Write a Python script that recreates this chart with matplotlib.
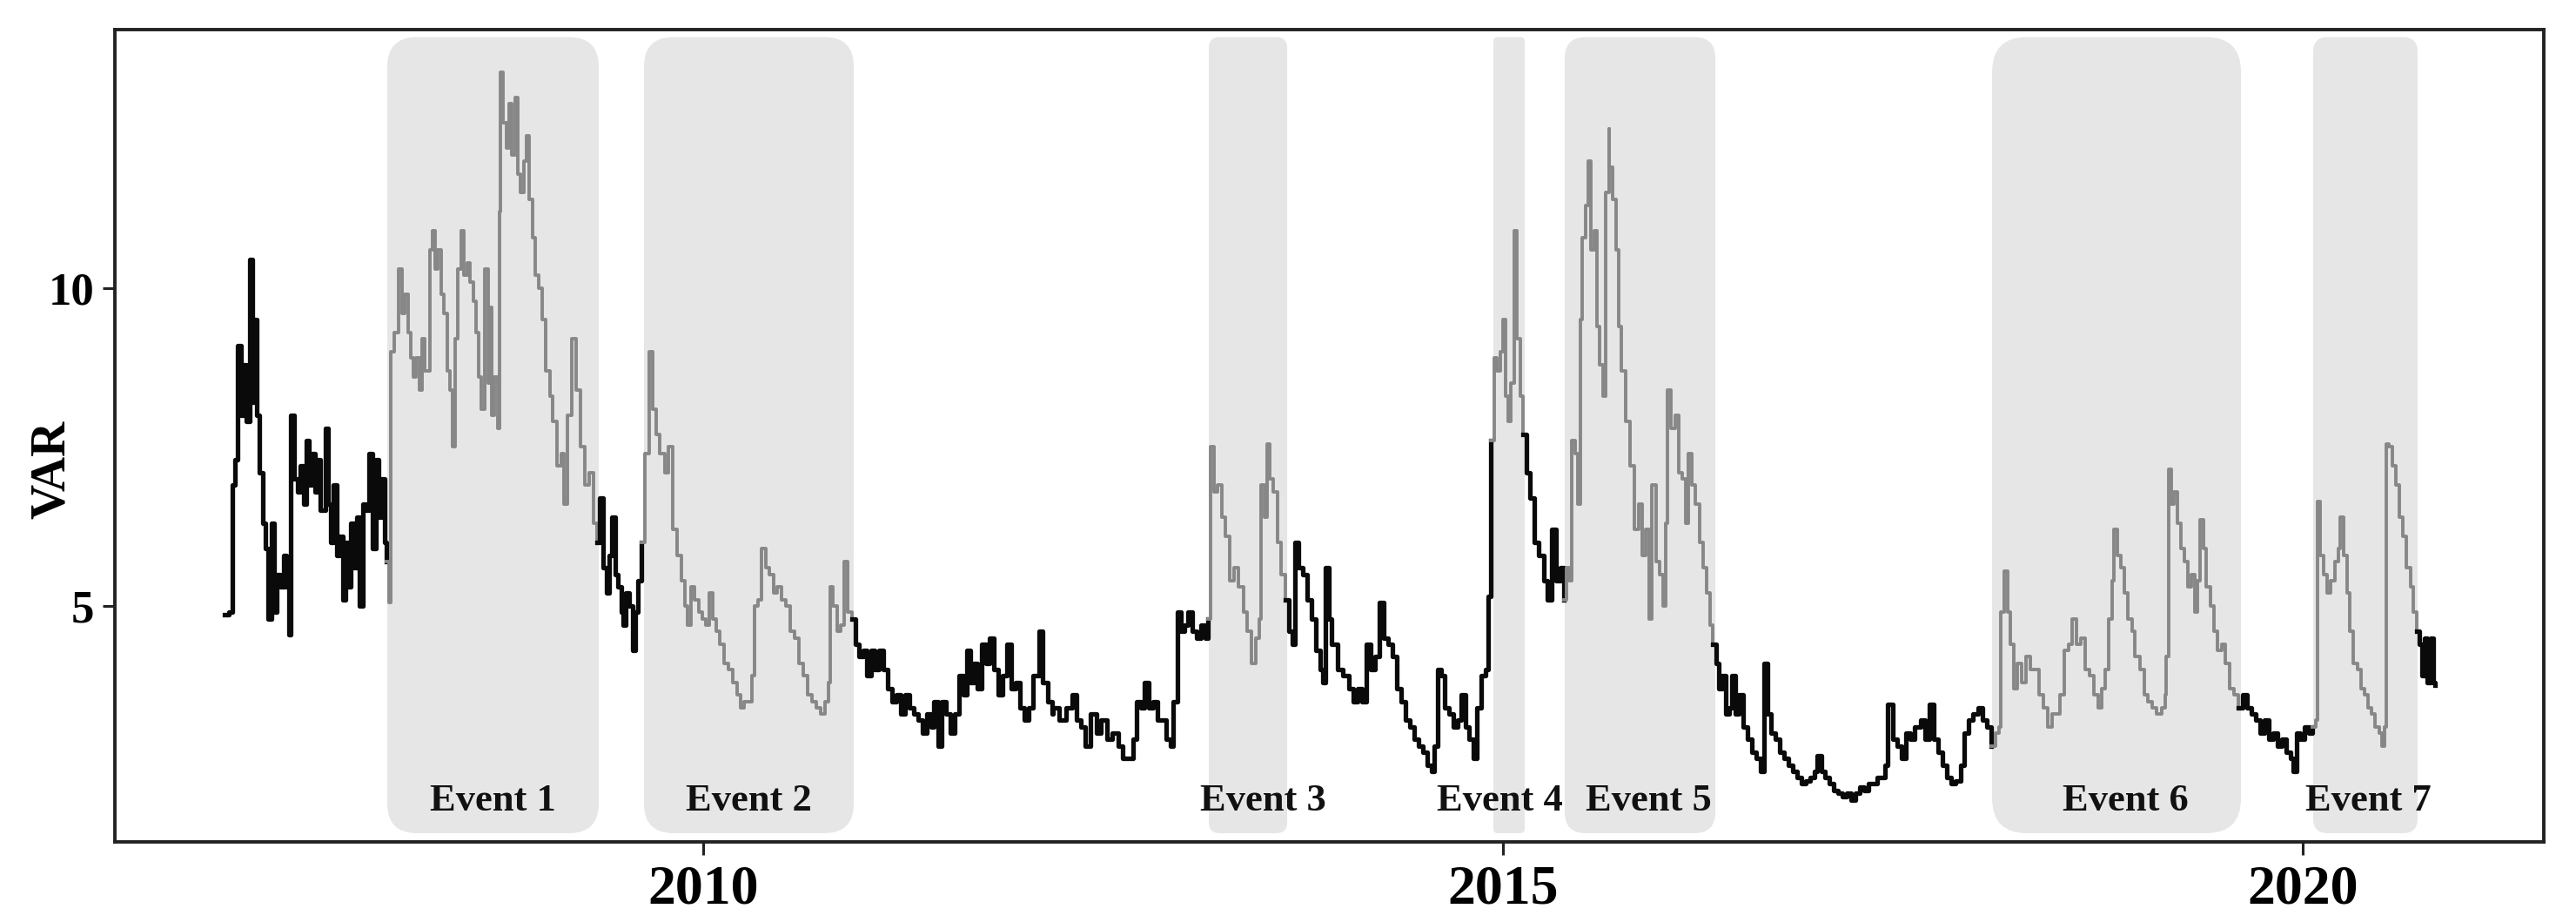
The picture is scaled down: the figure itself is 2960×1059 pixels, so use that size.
import numpy as np
import matplotlib.pyplot as plt
from matplotlib.patches import FancyBboxPatch

# VAR series (decimal year, value)
years = [
    2007.010, 2007.037, 2007.055, 2007.073, 2007.091, 2007.110, 2007.128, 2007.146, 2007.164, 2007.182,
    2007.191, 2007.209, 2007.227, 2007.246, 2007.264, 2007.282, 2007.300, 2007.318, 2007.336, 2007.354,
    2007.378, 2007.396, 2007.409, 2007.423, 2007.441, 2007.463, 2007.481, 2007.500, 2007.518, 2007.536,
    2007.554, 2007.572, 2007.590, 2007.608, 2007.636, 2007.654, 2007.672, 2007.690, 2007.708, 2007.726,
    2007.745, 2007.763, 2007.781, 2007.799, 2007.817, 2007.835, 2007.853, 2007.871, 2007.890, 2007.913,
    2007.931, 2007.953, 2007.971, 2007.989, 2008.007, 2008.020, 2008.035, 2008.049, 2008.071, 2008.098,
    2008.116, 2008.134, 2008.153, 2008.171, 2008.189, 2008.207, 2008.225, 2008.243, 2008.261, 2008.289,
    2008.307, 2008.325, 2008.343, 2008.361, 2008.379, 2008.398, 2008.416, 2008.434, 2008.448, 2008.466,
    2008.488, 2008.506, 2008.524, 2008.543, 2008.561, 2008.579, 2008.597, 2008.615, 2008.637, 2008.655,
    2008.670, 2008.678, 2008.696, 2008.714, 2008.727, 2008.734, 2008.751, 2008.769, 2008.787, 2008.805,
    2008.827, 2008.841, 2008.860, 2008.878, 2008.896, 2008.914, 2008.932, 2008.950, 2008.974, 2008.992,
    2009.014, 2009.041, 2009.059, 2009.086, 2009.114, 2009.132, 2009.150, 2009.177, 2009.204, 2009.231,
    2009.259, 2009.286, 2009.313, 2009.337, 2009.353, 2009.373, 2009.395, 2009.413, 2009.431, 2009.449,
    2009.467, 2009.486, 2009.500, 2009.518, 2009.540, 2009.558, 2009.576, 2009.594, 2009.616, 2009.634,
    2009.663, 2009.685, 2009.707, 2009.730, 2009.758, 2009.785, 2009.812, 2009.839, 2009.863, 2009.885,
    2009.903, 2009.926, 2009.948, 2009.972, 2009.993, 2010.015, 2010.039, 2010.062, 2010.084, 2010.102,
    2010.129, 2010.157, 2010.184, 2010.211, 2010.233, 2010.256, 2010.284, 2010.302, 2010.320, 2010.342,
    2010.365, 2010.389, 2010.411, 2010.438, 2010.465, 2010.492, 2010.519, 2010.546, 2010.573, 2010.601,
    2010.628, 2010.655, 2010.682, 2010.709, 2010.737, 2010.764, 2010.782, 2010.795, 2010.813, 2010.836,
    2010.860, 2010.882, 2010.905, 2010.929, 2010.951, 2010.972, 2011.000, 2011.023, 2011.049, 2011.072,
    2011.100, 2011.127, 2011.154, 2011.181, 2011.208, 2011.236, 2011.263, 2011.290, 2011.317, 2011.344,
    2011.372, 2011.399, 2011.426, 2011.444, 2011.468, 2011.490, 2011.517, 2011.544, 2011.571, 2011.598,
    2011.626, 2011.647, 2011.671, 2011.694, 2011.716, 2011.743, 2011.770, 2011.792, 2011.816, 2011.843,
    2011.870, 2011.897, 2011.925, 2011.952, 2011.979, 2012.006, 2012.034, 2012.061, 2012.083, 2012.101,
    2012.124, 2012.152, 2012.179, 2012.187, 2012.224, 2012.269, 2012.305, 2012.333, 2012.360, 2012.387,
    2012.423, 2012.460, 2012.487, 2012.523, 2012.559, 2012.596, 2012.623, 2012.659, 2012.686, 2012.710,
    2012.735, 2012.759, 2012.786, 2012.813, 2012.840, 2012.868, 2012.895, 2012.922, 2012.940, 2012.964,
    2012.986, 2013.007, 2013.031, 2013.058, 2013.085, 2013.113, 2013.140, 2013.158, 2013.172, 2013.194,
    2013.218, 2013.240, 2013.267, 2013.294, 2013.321, 2013.348, 2013.376, 2013.403, 2013.430, 2013.457,
    2013.475, 2013.490, 2013.508, 2013.524, 2013.542, 2013.566, 2013.590, 2013.611, 2013.639, 2013.660,
    2013.684, 2013.697, 2013.720, 2013.747, 2013.775, 2013.802, 2013.829, 2013.856, 2013.874, 2013.889,
    2013.911, 2013.928, 2013.965, 2014.001, 2014.037, 2014.064, 2014.092, 2014.119, 2014.146, 2014.173,
    2014.201, 2014.228, 2014.255, 2014.282, 2014.309, 2014.337, 2014.364, 2014.391, 2014.418, 2014.445,
    2014.473, 2014.500, 2014.527, 2014.554, 2014.572, 2014.591, 2014.614, 2014.636, 2014.663, 2014.690,
    2014.718, 2014.741, 2014.766, 2014.790, 2014.814, 2014.835, 2014.863, 2014.890, 2014.908, 2014.923,
    2014.948, 2014.962, 2014.981, 2014.999, 2015.017, 2015.035, 2015.050, 2015.068, 2015.086, 2015.107,
    2015.126, 2015.147, 2015.171, 2015.198, 2015.225, 2015.253, 2015.280, 2015.307, 2015.334, 2015.361,
    2015.380, 2015.398, 2015.416, 2015.430, 2015.449, 2015.467, 2015.485, 2015.497, 2015.516, 2015.534,
    2015.552, 2015.570, 2015.588, 2015.606, 2015.625, 2015.643, 2015.661, 2015.666, 2015.688, 2015.706,
    2015.724, 2015.742, 2015.769, 2015.796, 2015.824, 2015.851, 2015.869, 2015.891, 2015.914, 2015.932,
    2015.956, 2015.978, 2015.999, 2016.018, 2016.029, 2016.050, 2016.078, 2016.101, 2016.123, 2016.141,
    2016.159, 2016.181, 2016.205, 2016.228, 2016.250, 2016.272, 2016.295, 2016.313, 2016.332, 2016.350,
    2016.373, 2016.395, 2016.413, 2016.431, 2016.453, 2016.477, 2016.504, 2016.531, 2016.558, 2016.585,
    2016.613, 2016.634, 2016.653, 2016.676, 2016.703, 2016.731, 2016.758, 2016.785, 2016.812, 2016.839,
    2016.867, 2016.894, 2016.921, 2016.948, 2016.966, 2016.990, 2017.012, 2017.039, 2017.066, 2017.093,
    2017.121, 2017.148, 2017.175, 2017.202, 2017.230, 2017.257, 2017.284, 2017.311, 2017.338, 2017.366,
    2017.389, 2017.402, 2017.438, 2017.465, 2017.492, 2017.519, 2017.546, 2017.574, 2017.610, 2017.637,
    2017.664, 2017.692, 2017.719, 2017.746, 2017.773, 2017.800, 2017.831, 2017.864, 2017.886, 2017.909,
    2017.936, 2017.973, 2018.000, 2018.027, 2018.054, 2018.082, 2018.100, 2018.114, 2018.136, 2018.154,
    2018.172, 2018.194, 2018.218, 2018.245, 2018.272, 2018.299, 2018.327, 2018.354, 2018.381, 2018.408,
    2018.435, 2018.463, 2018.484, 2018.508, 2018.535, 2018.559, 2018.586, 2018.611, 2018.640, 2018.666,
    2018.695, 2018.720, 2018.744, 2018.767, 2018.789, 2018.807, 2018.822, 2018.840, 2018.862, 2018.883,
    2018.907, 2018.931, 2018.952, 2018.980, 2019.007, 2019.034, 2019.061, 2019.088, 2019.116, 2019.143,
    2019.148, 2019.160, 2019.179, 2019.197, 2019.215, 2019.238, 2019.260, 2019.282, 2019.306, 2019.324,
    2019.342, 2019.360, 2019.378, 2019.396, 2019.424, 2019.445, 2019.469, 2019.492, 2019.514, 2019.541,
    2019.569, 2019.596, 2019.623, 2019.650, 2019.677, 2019.705, 2019.732, 2019.759, 2019.786, 2019.814,
    2019.841, 2019.868, 2019.895, 2019.922, 2019.941, 2019.964, 2019.986, 2020.013, 2020.037, 2020.058,
    2020.080, 2020.091, 2020.109, 2020.131, 2020.153, 2020.176, 2020.200, 2020.222, 2020.236, 2020.254,
    2020.276, 2020.294, 2020.316, 2020.340, 2020.363, 2020.385, 2020.407, 2020.430, 2020.454, 2020.476,
    2020.497, 2020.512, 2020.523, 2020.541, 2020.559, 2020.581, 2020.603, 2020.624, 2020.648, 2020.672,
    2020.693, 2020.711, 2020.730, 2020.748, 2020.762, 2020.780, 2020.798, 2020.817, 2020.829,
]
var_values = [
    4.86, 4.90, 6.9, 7.3, 9.1, 8.0, 8.8, 7.9, 10.45, 8.2,
    9.5, 8.0, 7.1, 6.3, 5.9, 4.8, 6.3, 4.9, 5.5, 5.3,
    5.8, 5.3, 4.55, 8.0, 7.0, 6.8, 7.2, 6.6, 7.6, 6.9,
    7.4, 6.8, 7.3, 6.5, 7.8, 6.6, 6.0, 6.9, 5.8, 6.1,
    5.1, 6.0, 5.3, 6.3, 5.6, 6.4, 5.0, 6.6, 6.5, 7.4,
    5.9, 7.3, 6.4, 7.0, 6.0, 5.7, 5.05, 9.0, 9.3, 10.3,
    9.6, 9.9, 9.3, 8.9, 8.6, 8.9, 8.4, 9.2, 8.7, 10.6,
    10.9, 10.3, 10.6, 9.9, 9.6, 8.7, 8.4, 7.5, 9.2, 10.3,
    10.9, 10.2, 10.4, 10.1, 9.8, 9.3, 8.6, 8.1, 10.3, 8.5,
    9.7, 8.0, 8.6, 7.8, 11.2, 13.4, 12.6, 12.2, 12.9, 12.1,
    13.0, 11.8, 11.5, 12.0, 12.4, 11.4, 10.8, 10.2, 10.0, 9.5,
    8.7, 8.3, 7.9, 7.2, 7.4, 6.6, 8.0, 9.2, 8.4, 7.5,
    6.9, 7.1, 6.3, 6.0, 6.7, 5.6, 5.2, 5.8, 6.4, 5.5,
    5.3, 4.9, 4.7, 5.2, 5.0, 4.3, 4.9, 5.4, 6.0, 7.4,
    9.0, 8.1, 7.7, 7.4, 7.1, 7.5, 6.2, 5.8, 5.4, 5.0,
    4.7, 5.3, 5.1, 4.9, 4.8, 4.7, 5.2, 4.8, 4.6, 4.4,
    4.1, 4.0, 3.8, 3.6, 3.4, 3.5, 3.5, 3.9, 5.0, 5.1,
    5.9, 5.6, 5.5, 5.2, 5.3, 5.1, 5.0, 4.6, 4.5, 4.1,
    3.9, 3.6, 3.5, 3.4, 3.3, 3.5, 3.8, 5.3, 5.0, 4.6,
    4.7, 5.7, 4.9, 4.8, 4.4, 4.2, 4.3, 3.9, 4.3, 4.0,
    4.3, 4.0, 3.7, 3.5, 3.6, 3.3, 3.6, 3.4, 3.3, 3.2,
    3.0, 3.3, 3.1, 3.5, 2.8, 3.5, 3.3, 3.0, 3.3, 3.9,
    3.6, 4.3, 3.8, 4.1, 3.7, 4.4, 4.1, 4.5, 4.0, 3.6,
    3.9, 4.4, 3.7, 3.8, 3.4, 3.2, 3.4, 3.9, 3.9, 4.6,
    3.8, 3.5, 3.3, 3.4, 3.2, 3.4, 3.6, 3.2, 3.1, 2.8,
    3.3, 3.0, 3.2, 2.9, 3.0, 2.8, 2.6, 2.6, 2.9, 3.5,
    3.4, 3.8, 3.4, 3.5, 3.2, 3.2, 2.9, 2.8, 3.5, 4.9,
    4.6, 4.7, 4.9, 4.6, 4.5, 4.7, 4.5, 4.8, 7.5, 6.8,
    6.9, 6.4, 6.1, 5.4, 5.6, 5.3, 4.9, 4.6, 4.1, 4.5,
    4.8, 6.9, 6.4, 7.55, 7.0, 6.8, 6.0, 5.5, 5.1, 4.6,
    4.4, 6.0, 5.6, 5.5, 5.1, 4.8, 4.3, 4.0, 3.8, 5.6,
    4.8, 4.4, 4.0, 3.9, 3.7, 3.5, 3.7, 3.5, 4.4, 4.0,
    4.2, 5.05, 4.5, 4.4, 4.2, 3.7, 3.5, 3.2, 3.1, 2.9,
    2.8, 2.7, 2.5, 2.4, 2.8, 4.0, 3.9, 3.4, 3.3, 3.1,
    3.2, 3.6, 3.1, 2.9, 2.6, 3.4, 3.9, 4.0, 5.15, 7.6,
    8.9, 8.7, 9.0, 9.5, 8.3, 7.9, 8.5, 10.9, 9.2, 8.3,
    7.7, 7.1, 6.7, 6.0, 5.8, 5.4, 5.1, 6.2, 5.4, 5.6,
    5.1, 5.6, 5.4, 7.6, 7.4, 6.6, 9.5, 10.8, 11.3, 12.0,
    10.6, 10.9, 9.4, 8.8, 8.3, 11.5, 12.5, 11.9, 11.4, 10.6,
    9.4, 8.7, 7.9, 7.2, 6.2, 6.6, 5.8, 6.2, 4.8, 6.9,
    5.7, 5.5, 5.0, 6.3, 8.4, 7.8, 8.0, 7.1, 7.0, 6.3,
    7.4, 6.9, 6.6, 6.0, 5.6, 5.2, 4.7, 4.4, 4.1, 3.7,
    3.9, 3.3, 3.4, 3.9, 3.3, 3.6, 3.1, 2.9, 2.7, 2.6,
    2.4, 4.1, 3.3, 3.0, 2.9, 2.7, 2.6, 2.5, 2.4, 2.3,
    2.2, 2.25, 2.3, 2.4, 2.65, 2.4, 2.3, 2.2, 2.1, 2.05,
    2.0, 2.05, 1.95, 2.05, 2.15, 2.1, 2.2, 2.2, 2.3, 2.3,
    2.5, 3.45, 2.9, 2.8, 2.6, 3.0, 2.9, 3.1, 3.2, 2.9,
    3.45, 2.9, 2.7, 2.5, 2.3, 2.2, 2.25, 2.5, 3.0, 3.2,
    3.3, 3.4, 3.2, 3.1, 2.8, 3.0, 3.1, 4.9, 5.55, 4.9,
    4.4, 3.7, 4.1, 3.8, 4.2, 4.0, 4.0, 3.6, 3.4, 3.1,
    3.3, 3.3, 3.6, 4.3, 4.4, 4.8, 4.4, 4.5, 4.0, 3.9,
    3.6, 3.4, 3.7, 4.0, 4.8, 5.4, 6.2, 5.8, 5.6, 5.2,
    4.8, 4.6, 4.2, 4.0, 3.6, 3.5, 3.4, 3.3, 3.4, 3.6,
    4.2, 7.15, 6.6, 6.8, 6.3, 5.9, 5.7, 5.3, 5.5, 4.9,
    5.4, 6.35, 5.9, 5.3, 5.0, 4.6, 4.3, 4.4, 4.1, 3.7,
    3.6, 3.4, 3.6, 3.4, 3.3, 3.2, 3.0, 3.2, 2.9, 3.0,
    2.8, 2.9, 2.7, 2.6, 2.4, 3.0, 2.9, 3.1, 3.0, 3.1,
    3.2, 6.65, 5.8, 5.5, 5.2, 5.4, 5.7, 5.9, 6.4, 5.8,
    5.2, 4.6, 4.1, 4.0, 3.7, 3.6, 3.4, 3.3, 3.1, 3.0,
    2.8, 3.1, 7.55, 7.5, 7.2, 6.9, 6.4, 6.1, 5.6, 5.3,
    4.9, 4.6, 4.4, 3.9, 4.5, 3.8, 4.5, 3.8, 3.75,
]

event_names = ["Event 1", "Event 2", "Event 3", "Event 4", "Event 5", "Event 6", "Event 7"]
event_start = [2008.025, 2009.630, 2013.161, 2014.940, 2015.386, 2018.058, 2020.065]
event_end = [2009.347, 2010.941, 2013.651, 2015.136, 2016.328, 2019.614, 2020.718]

x_ticks = [2010, 2015, 2020]
y_ticks = [5, 10]

plt.rcParams['font.family'] = ['Liberation Serif', 'DejaVu Serif']
plt.rcParams['font.weight'] = 'bold'

fig = plt.figure(figsize=(29.6, 10.59), dpi=100)
ax = fig.add_axes([132 / 2960, 92 / 1059, 2791 / 2960, 933 / 1059])
xmin, xmax = 2006.322, 2021.507
ymin, ymax = 1.288, 14.068
ax.set_xlim(xmin, xmax)
ax.set_ylim(ymin, ymax)

# data units per pixel, used to keep the rounded corners circular
bbox = ax.get_window_extent()
px_x = (xmax - xmin) / bbox.width
px_y = (ymax - ymin) / bbox.height

# small horizontal nudges (pixels) of the event captions
label_shift = [0, 0, 17, -11, 10, 10, 3]

shade_lo, shade_hi = 1.425, 13.95
for name, s, e, dx in zip(event_names, event_start, event_end, label_shift):
    w_px = (e - s) / px_x
    r = min(0.14 * w_px, 40) * px_x
    box = FancyBboxPatch((s, shade_lo), e - s, shade_hi - shade_lo,
                         boxstyle=f"round,pad=0,rounding_size={r}",
                         mutation_aspect=px_y / px_x,
                         fc='#e6e6e6', ec='none', zorder=0)
    ax.add_patch(box)
    ax.text((s + e) / 2 + dx * px_x, 1.93, name, ha='center', va='center',
            fontsize=32, fontweight='bold', color='#111111', zorder=4)

# black outside the events, grey inside
t = np.array(years)
v = np.array(var_values)
inside = np.zeros(len(t), dtype=bool)
for s, e in zip(event_start, event_end):
    inside |= (t >= s) & (t <= e)
cuts = np.flatnonzero(np.diff(inside.astype(int))) + 1
run_starts = np.r_[0, cuts]
run_ends = np.r_[cuts, len(t)]
for a, b in zip(run_starts, run_ends):
    lo = max(a - 1, 0)
    if inside[a]:
        ax.plot(t[lo:b], v[lo:b], drawstyle='steps-post', color='#878787', lw=2.8, zorder=2)
    else:
        ax.plot(t[lo:b], v[lo:b], drawstyle='steps-post', color='#0a0a0a', lw=3.8, zorder=2)

ax.set_xticks(x_ticks)
ax.set_xticklabels([str(x) for x in x_ticks])
ax.set_yticks(y_ticks)
ax.set_yticklabels([str(y) for y in y_ticks])
ax.tick_params(axis='x', length=11, width=2.2, pad=8, labelsize=46, color='#222222')
ax.tick_params(axis='y', length=10, width=2.2, pad=7, labelsize=38, color='#222222')
for sp in ax.spines.values():
    sp.set_linewidth(2.8)
    sp.set_color('#222222')

ax.set_ylabel('VAR', fontsize=40, fontweight='bold')
ax.yaxis.set_label_coords(-0.0165, 0.458)

fig.savefig('out.png', dpi=100)
